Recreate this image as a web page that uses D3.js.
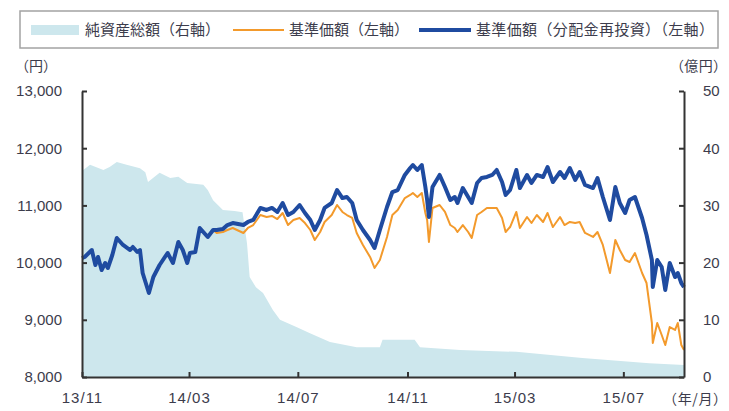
<!DOCTYPE html>
<html>
<head>
<meta charset="utf-8">
<script src="https://cdn.jsdelivr.net/npm/d3@7"></script>
<style>
  html, body { margin: 0; padding: 0; background: #fff; }
  svg { display: block; }
  text { font-family: "Noto Sans CJK JP", "Liberation Sans", sans-serif; }
  .tick text { font-family: "Liberation Sans", Arial, sans-serif; fill: #3c3c4c; }
</style>
</head>
<body>
<svg id="chart" width="729" height="411"></svg>
<script>
// 基準価額・分配金再投資基準価額の観測日
const priceDates = [
  "2013-11-01","2013-11-04","2013-11-12","2013-11-16","2013-11-19","2013-11-23","2013-11-27","2013-11-30","2013-12-05","2013-12-10",
  "2013-12-17","2013-12-25","2013-12-28","2014-01-02","2014-01-05","2014-01-08","2014-01-15","2014-01-20","2014-01-27","2014-02-05",
  "2014-02-11","2014-02-17","2014-02-22","2014-02-27","2014-03-02","2014-03-08","2014-03-13","2014-03-22","2014-03-28",
  "2014-04-01","2014-04-08","2014-04-13","2014-04-19","2014-05-01","2014-05-06","2014-05-12","2014-05-20","2014-05-27","2014-06-02",
  "2014-06-08","2014-06-14","2014-06-20","2014-06-26","2014-07-03","2014-07-09","2014-07-15","2014-07-20","2014-07-26","2014-07-31",
  "2014-08-08","2014-08-14","2014-08-20","2014-08-25","2014-08-31","2014-09-05","2014-09-12","2014-09-20","2014-09-25",
  "2014-10-01","2014-10-09","2014-10-15","2014-10-21","2014-10-29","2014-11-04","2014-11-07","2014-11-12","2014-11-17","2014-11-21",
  "2014-11-23","2014-11-25","2014-11-29","2014-12-07","2014-12-13","2014-12-19","2014-12-24","2014-12-27","2015-01-02","2015-01-08",
  "2015-01-12","2015-01-18","2015-01-23","2015-01-29","2015-02-04","2015-02-09","2015-02-15","2015-02-19","2015-02-24","2015-03-03",
  "2015-03-07","2015-03-15","2015-03-20","2015-03-26","2015-04-02","2015-04-07","2015-04-13","2015-04-21","2015-04-26","2015-05-02",
  "2015-05-08","2015-05-13","2015-05-19","2015-05-28","2015-06-02","2015-06-08","2015-06-16","2015-06-22","2015-06-27","2015-07-03",
  "2015-07-08","2015-07-14","2015-07-22","2015-07-27","2015-08-02","2015-08-03","2015-08-08","2015-08-13","2015-08-17","2015-08-22",
  "2015-08-28","2015-08-31","2015-09-04","2015-09-07"
];

// 基準価額（分配金再投資）（円）
const reinvestedPrice = [
  10080,10098,10220,9958,10098,9871,9993,9906,10133,10430,
  10308,10220,10273,10185,10220,9818,9469,9748,9958,10168,
  9993,10360,10220,9993,10168,10185,10605,10448,10570,
  10570,10587,10657,10692,10657,10710,10745,10955,10920,10955,
  10885,11042,10832,10885,11007,10867,10745,10570,10745,10955,
  11042,11269,11129,11147,11042,10745,10570,10395,10255,
  10570,10972,11234,11269,11532,11654,11706,11619,11706,11322,
  11094,10797,11322,11532,11322,11094,11147,11042,11304,11147,
  11042,11392,11479,11497,11532,11619,11409,11182,11269,11619,
  11304,11532,11392,11532,11497,11671,11409,11584,11479,11654,
  11444,11584,11357,11304,11479,11147,10745,11322,11042,10867,
  11094,11147,10780,10483,10046,9573,10046,9923,9521,9993,
  9748,9818,9643,9573
];

// 基準価額（円）
const basePrice = [
  10080,10098,10220,9958,10098,9871,9993,9906,10133,10430,
  10308,10220,10273,10185,10220,9818,9469,9748,9958,10168,
  9993,10360,10220,9993,10168,10185,10605,10448,10570,
  10518,10535,10570,10605,10518,10605,10657,10832,10797,10815,
  10762,10867,10657,10745,10780,10692,10570,10395,10535,10710,
  10832,11007,10885,10832,10780,10518,10308,10098,9906,
  10046,10448,10832,10920,11129,11182,11217,11147,11217,10867,
  10745,10360,10955,11007,10885,10657,10605,10535,10657,10535,
  10430,10832,10885,10955,10955,10955,10780,10535,10622,10885,
  10605,10797,10692,10832,10710,10867,10622,10797,10657,10710,
  10692,10710,10518,10448,10535,10308,9818,10395,10220,10046,
  10011,10168,9818,9643,8944,8594,8944,8734,8559,8874,
  8822,8944,8559,8472
];

// 純資産総額の観測日と金額（億円）
const assetDates = [
  "2013-11-01","2013-11-10","2013-11-25","2013-12-02","2013-12-10","2013-12-21","2014-01-05","2014-01-11","2014-01-14","2014-01-27",
  "2014-02-08","2014-02-17","2014-02-27","2014-03-17","2014-03-22","2014-03-28","2014-04-08","2014-04-21","2014-04-30","2014-05-05",
  "2014-05-08","2014-05-15","2014-05-23","2014-06-03","2014-06-11","2014-06-30","2014-07-14","2014-08-06","2014-09-05","2014-10-01",
  "2014-10-04","2014-11-09","2014-11-15","2014-12-30","2015-03-03","2015-05-16","2015-07-30","2015-09-07"
];
const netAssets = [
  36.0,37.1,36.2,36.7,37.6,37.1,36.5,35.8,34.1,35.7,
  34.8,35.0,33.9,33.6,32.7,30.9,29.2,29.0,28.8,23.4,
  17.5,15.7,14.7,11.7,10.0,8.7,7.7,6.1,5.2,5.2,
  6.5,6.5,5.2,4.7,4.4,3.3,2.4,2.1
];

// 目盛
const leftTicks = [8000, 9000, 10000, 11000, 12000, 13000];
const rightTicks = [0, 10, 20, 30, 40, 50];
const monthTicks = ["2013-11-01","2014-03-01","2014-07-01","2014-11-01","2015-03-01","2015-07-01"];
const monthTickLabels = ["13/11","14/03","14/07","14/11","15/03","15/07"];

// 凡例
const legendItems = [
  { label: "純資産総額（右軸）", kind: "area" },
  { label: "基準価額（左軸）", kind: "base" },
  { label: "基準価額（分配金再投資）（左軸）", kind: "reinvested" }
];

const colors = { area: "#cde7ed", base: "#f39a2c", reinvested: "#1f4ba0", axis: "#333333", text: "#3c3c4c" };

const parse = d3.timeParse("%Y-%m-%d");
const svg = d3.select("#chart");

const plot = { left: 82, right: 684, top: 91, bottom: 377 };

const x = d3.scaleTime()
  .domain([parse("2013-11-01"), parse("2015-09-07")])
  .range([plot.left, plot.right]);
const yLeft = d3.scaleLinear().domain([8000, 13000]).range([plot.bottom, plot.top]);
const yRight = d3.scaleLinear().domain([0, 50]).range([plot.bottom, plot.top]);

const priceRows = priceDates.map((d, i) => ({ date: parse(d), reinvested: reinvestedPrice[i], base: basePrice[i] }));
const assetRows = assetDates.map((d, i) => ({ date: parse(d), value: netAssets[i] }));

// 純資産総額（面）
svg.append("path")
  .datum(assetRows)
  .attr("fill", colors.area)
  .attr("d", d3.area()
    .x(d => x(d.date))
    .y0(yRight(0))
    .y1(d => yRight(d.value)));

// 基準価額
svg.append("path")
  .datum(priceRows)
  .attr("fill", "none")
  .attr("stroke", colors.base)
  .attr("stroke-width", 2)
  .attr("stroke-linejoin", "round")
  .attr("d", d3.line().x(d => x(d.date)).y(d => yLeft(d.base)));

// 基準価額（分配金再投資）
svg.append("path")
  .datum(priceRows)
  .attr("fill", "none")
  .attr("stroke", colors.reinvested)
  .attr("stroke-width", 4)
  .attr("stroke-linejoin", "round")
  .attr("d", d3.line().x(d => x(d.date)).y(d => yLeft(d.reinvested)));

// 軸
function styleAxis(g) {
  g.select(".domain").attr("stroke", colors.axis).attr("stroke-width", 2);
  g.selectAll(".tick line").attr("stroke", colors.axis).attr("stroke-width", 2);
  g.selectAll(".tick text").attr("font-size", 15).attr("fill", colors.text);
}

svg.append("g")
  .attr("transform", `translate(${plot.left},0)`)
  .call(d3.axisLeft(yLeft).tickValues(leftTicks).tickFormat(d3.format(",")).tickSizeInner(-5).tickSizeOuter(0).tickPadding(20))
  .call(styleAxis);

svg.append("g")
  .attr("transform", `translate(${plot.right},0)`)
  .call(d3.axisRight(yRight).tickValues(rightTicks).tickFormat(d3.format("d")).tickSizeInner(-5).tickSizeOuter(0).tickPadding(19))
  .call(styleAxis);

svg.append("g")
  .attr("transform", `translate(0,${plot.bottom})`)
  .call(d3.axisBottom(x).tickValues(monthTicks.map(parse)).tickFormat((d, i) => monthTickLabels[i]).tickSizeInner(-5).tickSizeOuter(0).tickPadding(15))
  .call(styleAxis)
  .call(g => g.selectAll(".tick text").attr("letter-spacing", 1));

// 単位
svg.append("text").attr("x", 15).attr("y", 71).attr("font-size", 14).attr("fill", colors.text)
  .attr("textLength", 42).text("（円）");
svg.append("text").attr("x", 670).attr("y", 71).attr("font-size", 14).attr("fill", colors.text)
  .attr("textLength", 57).text("（億円）");
svg.append("text").attr("x", 663).attr("y", 404).attr("font-size", 14).attr("fill", colors.text)
  .attr("textLength", 64).text("（年/月）");

// 凡例
const legend = svg.append("g");
legend.append("rect")
  .attr("x", 20).attr("y", 11).attr("width", 698).attr("height", 37)
  .attr("fill", "#fff").attr("stroke", "#a3a3a3").attr("stroke-width", 1.5);

const legendLayout = [
  { sx: 31, sw: 48, tx: 85, tw: 135 },
  { sx: 233, sw: 51, tx: 289, tw: 120 },
  { sx: 419, sw: 52, tx: 476, tw: 238 }
];
legendItems.forEach((item, i) => {
  const L = legendLayout[i];
  if (item.kind === "area") {
    legend.append("rect").attr("x", L.sx).attr("y", 25).attr("width", L.sw).attr("height", 10).attr("fill", colors.area);
  } else {
    legend.append("line").attr("x1", L.sx).attr("x2", L.sx + L.sw).attr("y1", 30).attr("y2", 30)
      .attr("stroke", colors[item.kind]).attr("stroke-width", item.kind === "reinvested" ? 4 : 2);
  }
  legend.append("text").attr("x", L.tx).attr("y", 35).attr("font-size", 15).attr("fill", colors.text)
    .attr("textLength", L.tw).attr("lengthAdjust", "spacing").text(item.label);
});
</script>
</body>
</html>
